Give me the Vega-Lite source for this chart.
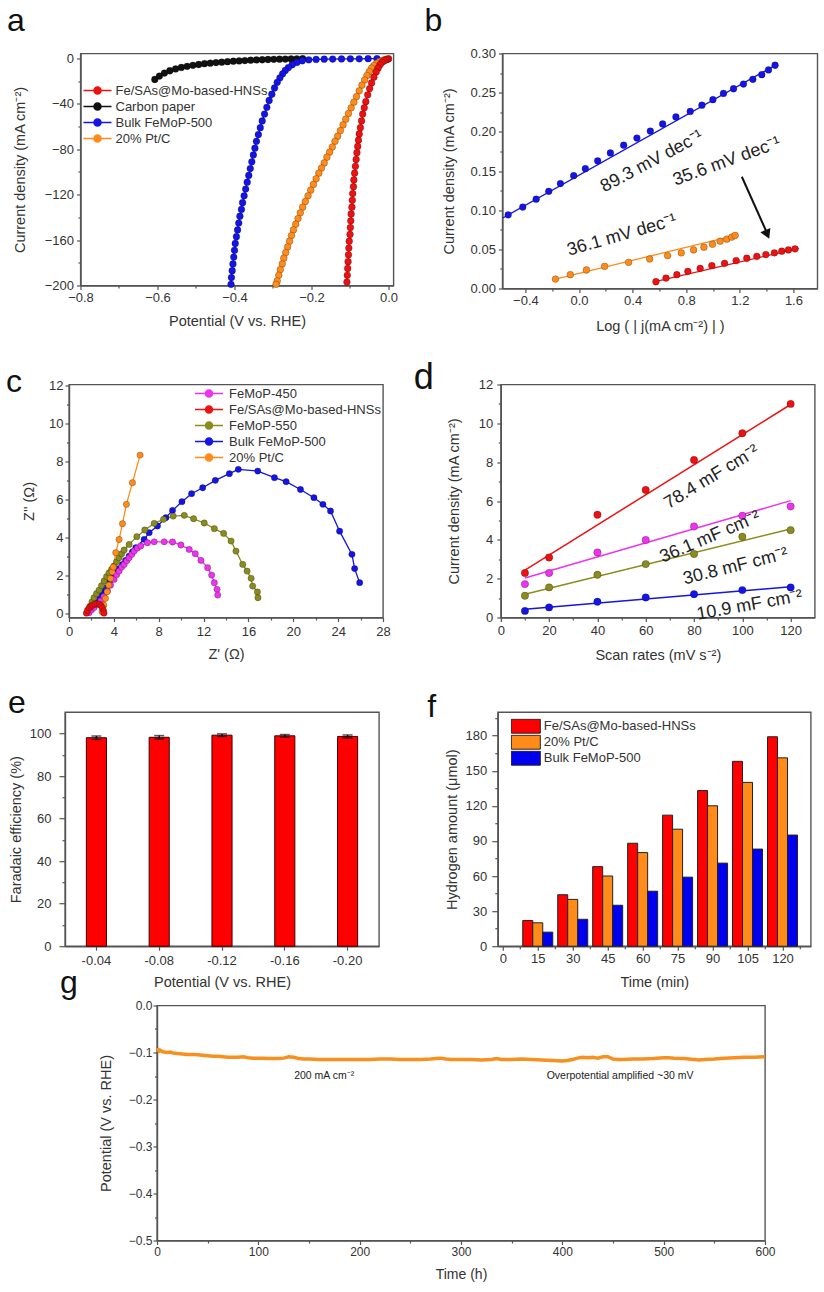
{
  "$schema": "https://vega.github.io/schema/vega-lite/v6.json",
  "padding": {"left": 0, "top": 3.5, "right": 2, "bottom": 2},
  "background": "white",
  "config": {
    "font": "Liberation Sans",
    "view": {"stroke": "#555", "strokeWidth": 1.4},
    "axis": {"grid": false, "labelFlush": false, "domainColor": "#555", "domainWidth": 1.4, "tickColor": "#555", "tickWidth": 1.2, "tickSize": 4, "labelColor": "#333", "labelFontSize": 13, "titleColor": "#333", "titleFontSize": 14.5, "titleFontWeight": "normal", "labelPadding": 2},
    "legend": {"labelColor": "#333", "labelFontSize": 13, "padding": 0, "rowPadding": 0},
    "title": {"fontSize": 32, "fontWeight": "normal", "anchor": "start", "frame": "group", "color": "#111", "baseline": "alphabetic"}
  },
  "datasets": {
    "lsv": [
      {"s":"Carbon paper","x":-0.607,"y":-18.5},{"s":"Carbon paper","x":-0.595,"y":-15.5},{"s":"Carbon paper","x":-0.582,"y":-12.8},{"s":"Carbon paper","x":-0.568,"y":-10.8},{"s":"Carbon paper","x":-0.553,"y":-9.2},{"s":"Carbon paper","x":-0.538,"y":-7.9},{"s":"Carbon paper","x":-0.523,"y":-6.9},{"s":"Carbon paper","x":-0.508,"y":-6.0},{"s":"Carbon paper","x":-0.493,"y":-5.3},{"s":"Carbon paper","x":-0.478,"y":-4.6},{"s":"Carbon paper","x":-0.463,"y":-4.1},{"s":"Carbon paper","x":-0.448,"y":-3.6},{"s":"Carbon paper","x":-0.433,"y":-3.2},{"s":"Carbon paper","x":-0.418,"y":-2.8},{"s":"Carbon paper","x":-0.403,"y":-2.4},{"s":"Carbon paper","x":-0.388,"y":-2.1},{"s":"Carbon paper","x":-0.373,"y":-1.8},{"s":"Carbon paper","x":-0.358,"y":-1.5},{"s":"Carbon paper","x":-0.343,"y":-1.3},{"s":"Carbon paper","x":-0.328,"y":-1.1},{"s":"Carbon paper","x":-0.313,"y":-0.9},{"s":"Carbon paper","x":-0.298,"y":-0.7},{"s":"Carbon paper","x":-0.283,"y":-0.6},{"s":"Carbon paper","x":-0.268,"y":-0.5},{"s":"Carbon paper","x":-0.253,"y":-0.4},{"s":"Carbon paper","x":-0.238,"y":-0.3},{"s":"Carbon paper","x":-0.223,"y":-0.2},
      {"s":"Bulk FeMoP-500","x":-0.030,"y":-0.2},{"s":"Bulk FeMoP-500","x":-0.053,"y":-0.2},{"s":"Bulk FeMoP-500","x":-0.076,"y":-0.3},{"s":"Bulk FeMoP-500","x":-0.099,"y":-0.3},{"s":"Bulk FeMoP-500","x":-0.122,"y":-0.4},{"s":"Bulk FeMoP-500","x":-0.145,"y":-0.5},{"s":"Bulk FeMoP-500","x":-0.167,"y":-0.6},{"s":"Bulk FeMoP-500","x":-0.188,"y":-0.8},{"s":"Bulk FeMoP-500","x":-0.207,"y":-1.2},{"s":"Bulk FeMoP-500","x":-0.224,"y":-2.0},{"s":"Bulk FeMoP-500","x":-0.238,"y":-3.5},{"s":"Bulk FeMoP-500","x":-0.250,"y":-5.5},{"s":"Bulk FeMoP-500","x":-0.260,"y":-8},{"s":"Bulk FeMoP-500","x":-0.268,"y":-10.5},{"s":"Bulk FeMoP-500","x":-0.275,"y":-13.5},{"s":"Bulk FeMoP-500","x":-0.282,"y":-17},{"s":"Bulk FeMoP-500","x":-0.289,"y":-21},{"s":"Bulk FeMoP-500","x":-0.296,"y":-26},{"s":"Bulk FeMoP-500","x":-0.303,"y":-31.5},{"s":"Bulk FeMoP-500","x":-0.310,"y":-37},{"s":"Bulk FeMoP-500","x":-0.316,"y":-43},{"s":"Bulk FeMoP-500","x":-0.322,"y":-49},{"s":"Bulk FeMoP-500","x":-0.328,"y":-55},{"s":"Bulk FeMoP-500","x":-0.333,"y":-61},{"s":"Bulk FeMoP-500","x":-0.338,"y":-67},{"s":"Bulk FeMoP-500","x":-0.343,"y":-73},{"s":"Bulk FeMoP-500","x":-0.347,"y":-79},{"s":"Bulk FeMoP-500","x":-0.351,"y":-85},{"s":"Bulk FeMoP-500","x":-0.355,"y":-91},{"s":"Bulk FeMoP-500","x":-0.359,"y":-97},{"s":"Bulk FeMoP-500","x":-0.363,"y":-103},{"s":"Bulk FeMoP-500","x":-0.367,"y":-109},{"s":"Bulk FeMoP-500","x":-0.371,"y":-115},{"s":"Bulk FeMoP-500","x":-0.375,"y":-121},{"s":"Bulk FeMoP-500","x":-0.379,"y":-127},{"s":"Bulk FeMoP-500","x":-0.382,"y":-133},{"s":"Bulk FeMoP-500","x":-0.386,"y":-139},{"s":"Bulk FeMoP-500","x":-0.389,"y":-145},{"s":"Bulk FeMoP-500","x":-0.392,"y":-151},{"s":"Bulk FeMoP-500","x":-0.395,"y":-157},{"s":"Bulk FeMoP-500","x":-0.398,"y":-163},{"s":"Bulk FeMoP-500","x":-0.400,"y":-169},{"s":"Bulk FeMoP-500","x":-0.402,"y":-175},{"s":"Bulk FeMoP-500","x":-0.404,"y":-181},{"s":"Bulk FeMoP-500","x":-0.406,"y":-187},{"s":"Bulk FeMoP-500","x":-0.408,"y":-193},{"s":"Bulk FeMoP-500","x":-0.409,"y":-199},
      {"s":"20% Pt/C","x":0.000,"y":-0.3},{"s":"20% Pt/C","x":-0.008,"y":-0.8},{"s":"20% Pt/C","x":-0.016,"y":-1.6},{"s":"20% Pt/C","x":-0.024,"y":-2.8},{"s":"20% Pt/C","x":-0.031,"y":-4.3},{"s":"20% Pt/C","x":-0.038,"y":-6.2},{"s":"20% Pt/C","x":-0.044,"y":-8.5},{"s":"20% Pt/C","x":-0.050,"y":-11.5},{"s":"20% Pt/C","x":-0.056,"y":-15},{"s":"20% Pt/C","x":-0.062,"y":-19},{"s":"20% Pt/C","x":-0.069,"y":-23.5},{"s":"20% Pt/C","x":-0.076,"y":-28.5},{"s":"20% Pt/C","x":-0.083,"y":-33.5},{"s":"20% Pt/C","x":-0.090,"y":-38.5},{"s":"20% Pt/C","x":-0.097,"y":-43.5},{"s":"20% Pt/C","x":-0.104,"y":-48.5},{"s":"20% Pt/C","x":-0.111,"y":-53.5},{"s":"20% Pt/C","x":-0.118,"y":-58.5},{"s":"20% Pt/C","x":-0.125,"y":-63.5},{"s":"20% Pt/C","x":-0.132,"y":-68.5},{"s":"20% Pt/C","x":-0.139,"y":-73},{"s":"20% Pt/C","x":-0.146,"y":-78},{"s":"20% Pt/C","x":-0.153,"y":-82.5},{"s":"20% Pt/C","x":-0.160,"y":-87},{"s":"20% Pt/C","x":-0.167,"y":-92},{"s":"20% Pt/C","x":-0.174,"y":-96.5},{"s":"20% Pt/C","x":-0.181,"y":-101},{"s":"20% Pt/C","x":-0.188,"y":-106},{"s":"20% Pt/C","x":-0.195,"y":-111},{"s":"20% Pt/C","x":-0.202,"y":-116},{"s":"20% Pt/C","x":-0.209,"y":-121},{"s":"20% Pt/C","x":-0.216,"y":-126},{"s":"20% Pt/C","x":-0.223,"y":-131},{"s":"20% Pt/C","x":-0.229,"y":-136},{"s":"20% Pt/C","x":-0.235,"y":-141},{"s":"20% Pt/C","x":-0.241,"y":-146},{"s":"20% Pt/C","x":-0.247,"y":-151},{"s":"20% Pt/C","x":-0.252,"y":-156},{"s":"20% Pt/C","x":-0.257,"y":-161},{"s":"20% Pt/C","x":-0.262,"y":-166},{"s":"20% Pt/C","x":-0.267,"y":-171},{"s":"20% Pt/C","x":-0.272,"y":-176},{"s":"20% Pt/C","x":-0.276,"y":-181},{"s":"20% Pt/C","x":-0.281,"y":-186},{"s":"20% Pt/C","x":-0.285,"y":-191},{"s":"20% Pt/C","x":-0.289,"y":-196},{"s":"20% Pt/C","x":-0.292,"y":-199},
      {"s":"Fe/SAs@Mo-based-HNSs","x":0.000,"y":-0.3},{"s":"Fe/SAs@Mo-based-HNSs","x":-0.004,"y":-0.8},{"s":"Fe/SAs@Mo-based-HNSs","x":-0.008,"y":-1.3},{"s":"Fe/SAs@Mo-based-HNSs","x":-0.012,"y":-2.2},{"s":"Fe/SAs@Mo-based-HNSs","x":-0.017,"y":-3.4},{"s":"Fe/SAs@Mo-based-HNSs","x":-0.022,"y":-5.5},{"s":"Fe/SAs@Mo-based-HNSs","x":-0.027,"y":-8.5},{"s":"Fe/SAs@Mo-based-HNSs","x":-0.032,"y":-12},{"s":"Fe/SAs@Mo-based-HNSs","x":-0.038,"y":-16.5},{"s":"Fe/SAs@Mo-based-HNSs","x":-0.044,"y":-21.5},{"s":"Fe/SAs@Mo-based-HNSs","x":-0.049,"y":-26.5},{"s":"Fe/SAs@Mo-based-HNSs","x":-0.054,"y":-32},{"s":"Fe/SAs@Mo-based-HNSs","x":-0.059,"y":-38},{"s":"Fe/SAs@Mo-based-HNSs","x":-0.063,"y":-43.5},{"s":"Fe/SAs@Mo-based-HNSs","x":-0.067,"y":-49},{"s":"Fe/SAs@Mo-based-HNSs","x":-0.070,"y":-55},{"s":"Fe/SAs@Mo-based-HNSs","x":-0.073,"y":-61},{"s":"Fe/SAs@Mo-based-HNSs","x":-0.076,"y":-66.5},{"s":"Fe/SAs@Mo-based-HNSs","x":-0.078,"y":-72},{"s":"Fe/SAs@Mo-based-HNSs","x":-0.080,"y":-77.5},{"s":"Fe/SAs@Mo-based-HNSs","x":-0.082,"y":-83},{"s":"Fe/SAs@Mo-based-HNSs","x":-0.084,"y":-89},{"s":"Fe/SAs@Mo-based-HNSs","x":-0.086,"y":-95},{"s":"Fe/SAs@Mo-based-HNSs","x":-0.088,"y":-101},{"s":"Fe/SAs@Mo-based-HNSs","x":-0.090,"y":-107},{"s":"Fe/SAs@Mo-based-HNSs","x":-0.091,"y":-113},{"s":"Fe/SAs@Mo-based-HNSs","x":-0.093,"y":-119},{"s":"Fe/SAs@Mo-based-HNSs","x":-0.094,"y":-125},{"s":"Fe/SAs@Mo-based-HNSs","x":-0.095,"y":-131},{"s":"Fe/SAs@Mo-based-HNSs","x":-0.097,"y":-137},{"s":"Fe/SAs@Mo-based-HNSs","x":-0.098,"y":-143},{"s":"Fe/SAs@Mo-based-HNSs","x":-0.099,"y":-149},{"s":"Fe/SAs@Mo-based-HNSs","x":-0.100,"y":-155},{"s":"Fe/SAs@Mo-based-HNSs","x":-0.102,"y":-161},{"s":"Fe/SAs@Mo-based-HNSs","x":-0.103,"y":-167},{"s":"Fe/SAs@Mo-based-HNSs","x":-0.104,"y":-173},{"s":"Fe/SAs@Mo-based-HNSs","x":-0.105,"y":-179},{"s":"Fe/SAs@Mo-based-HNSs","x":-0.106,"y":-185},{"s":"Fe/SAs@Mo-based-HNSs","x":-0.107,"y":-191},{"s":"Fe/SAs@Mo-based-HNSs","x":-0.108,"y":-197}
    ],
    "tafel": [
      {"s":"Bulk FeMoP-500","x":-0.529,"y":0.094},{"s":"Bulk FeMoP-500","x":-0.420,"y":0.104},{"s":"Bulk FeMoP-500","x":-0.320,"y":0.114},{"s":"Bulk FeMoP-500","x":-0.226,"y":0.124},{"s":"Bulk FeMoP-500","x":-0.139,"y":0.134},{"s":"Bulk FeMoP-500","x":-0.040,"y":0.144},{"s":"Bulk FeMoP-500","x":0.047,"y":0.153},{"s":"Bulk FeMoP-500","x":0.139,"y":0.163},{"s":"Bulk FeMoP-500","x":0.234,"y":0.173},{"s":"Bulk FeMoP-500","x":0.333,"y":0.183},{"s":"Bulk FeMoP-500","x":0.432,"y":0.192},{"s":"Bulk FeMoP-500","x":0.532,"y":0.201},{"s":"Bulk FeMoP-500","x":0.624,"y":0.210},{"s":"Bulk FeMoP-500","x":0.723,"y":0.219},{"s":"Bulk FeMoP-500","x":0.830,"y":0.226},{"s":"Bulk FeMoP-500","x":0.917,"y":0.234},{"s":"Bulk FeMoP-500","x":0.999,"y":0.241},{"s":"Bulk FeMoP-500","x":1.078,"y":0.249},{"s":"Bulk FeMoP-500","x":1.153,"y":0.255},{"s":"Bulk FeMoP-500","x":1.227,"y":0.261},{"s":"Bulk FeMoP-500","x":1.297,"y":0.267},{"s":"Bulk FeMoP-500","x":1.364,"y":0.273},{"s":"Bulk FeMoP-500","x":1.414,"y":0.279},{"s":"Bulk FeMoP-500","x":1.463,"y":0.285},
      {"s":"20% Pt/C","x":-0.176,"y":0.012},{"s":"20% Pt/C","x":-0.065,"y":0.0176},{"s":"20% Pt/C","x":0.055,"y":0.0236},{"s":"20% Pt/C","x":0.191,"y":0.0283},{"s":"20% Pt/C","x":0.370,"y":0.0334},{"s":"20% Pt/C","x":0.527,"y":0.0377},{"s":"20% Pt/C","x":0.661,"y":0.042},{"s":"20% Pt/C","x":0.763,"y":0.0454},{"s":"20% Pt/C","x":0.855,"y":0.0493},{"s":"20% Pt/C","x":0.932,"y":0.0527},{"s":"20% Pt/C","x":0.996,"y":0.0566},{"s":"20% Pt/C","x":1.053,"y":0.0604},{"s":"20% Pt/C","x":1.103,"y":0.063},{"s":"20% Pt/C","x":1.140,"y":0.0656},{"s":"20% Pt/C","x":1.165,"y":0.0677},
      {"s":"Fe/SAs@Mo-based-HNSs","x":0.574,"y":0.0086},{"s":"Fe/SAs@Mo-based-HNSs","x":0.649,"y":0.0133},{"s":"Fe/SAs@Mo-based-HNSs","x":0.730,"y":0.0176},{"s":"Fe/SAs@Mo-based-HNSs","x":0.812,"y":0.0219},{"s":"Fe/SAs@Mo-based-HNSs","x":0.904,"y":0.0257},{"s":"Fe/SAs@Mo-based-HNSs","x":0.991,"y":0.0291},{"s":"Fe/SAs@Mo-based-HNSs","x":1.086,"y":0.0321},{"s":"Fe/SAs@Mo-based-HNSs","x":1.173,"y":0.0356},{"s":"Fe/SAs@Mo-based-HNSs","x":1.252,"y":0.0386},{"s":"Fe/SAs@Mo-based-HNSs","x":1.327,"y":0.0411},{"s":"Fe/SAs@Mo-based-HNSs","x":1.394,"y":0.0433},{"s":"Fe/SAs@Mo-based-HNSs","x":1.458,"y":0.0454},{"s":"Fe/SAs@Mo-based-HNSs","x":1.513,"y":0.0476},{"s":"Fe/SAs@Mo-based-HNSs","x":1.563,"y":0.0493},{"s":"Fe/SAs@Mo-based-HNSs","x":1.612,"y":0.0506}
    ],
    "tafelfit": [
      {"s":"Bulk FeMoP-500","x":-0.57,"y":0.090},{"s":"Bulk FeMoP-500","x":1.48,"y":0.2865},
      {"s":"20% Pt/C","x":-0.2,"y":0.0111},{"s":"20% Pt/C","x":1.19,"y":0.0688},
      {"s":"Fe/SAs@Mo-based-HNSs","x":0.56,"y":0.0085},{"s":"Fe/SAs@Mo-based-HNSs","x":1.64,"y":0.0512}
    ],
    "eis": [
      {"s":"Bulk FeMoP-500","x":1.94,"y":0.23},{"s":"Bulk FeMoP-500","x":2.15,"y":0.45},{"s":"Bulk FeMoP-500","x":2.38,"y":0.67},{"s":"Bulk FeMoP-500","x":2.65,"y":0.88},{"s":"Bulk FeMoP-500","x":2.98,"y":1.1},{"s":"Bulk FeMoP-500","x":3.25,"y":1.35},{"s":"Bulk FeMoP-500","x":3.57,"y":1.63},{"s":"Bulk FeMoP-500","x":3.85,"y":1.9},{"s":"Bulk FeMoP-500","x":4.17,"y":2.15},{"s":"Bulk FeMoP-500","x":4.45,"y":2.37},{"s":"Bulk FeMoP-500","x":4.77,"y":2.59},{"s":"Bulk FeMoP-500","x":5.05,"y":2.8},{"s":"Bulk FeMoP-500","x":5.36,"y":3.03},{"s":"Bulk FeMoP-500","x":5.65,"y":3.25},{"s":"Bulk FeMoP-500","x":5.96,"y":3.47},{"s":"Bulk FeMoP-500","x":6.7,"y":3.91},{"s":"Bulk FeMoP-500","x":7.15,"y":4.26},{"s":"Bulk FeMoP-500","x":7.89,"y":4.61},{"s":"Bulk FeMoP-500","x":8.64,"y":5.05},{"s":"Bulk FeMoP-500","x":9.23,"y":5.43},{"s":"Bulk FeMoP-500","x":10.07,"y":5.89},{"s":"Bulk FeMoP-500","x":10.93,"y":6.31},{"s":"Bulk FeMoP-500","x":11.92,"y":6.62},{"s":"Bulk FeMoP-500","x":13.05,"y":7.01},{"s":"Bulk FeMoP-500","x":14.3,"y":7.36},{"s":"Bulk FeMoP-500","x":15.1,"y":7.59},{"s":"Bulk FeMoP-500","x":16.83,"y":7.5},{"s":"Bulk FeMoP-500","x":18.32,"y":7.15},{"s":"Bulk FeMoP-500","x":19.36,"y":6.94},{"s":"Bulk FeMoP-500","x":20.64,"y":6.53},{"s":"Bulk FeMoP-500","x":21.84,"y":6.1},{"s":"Bulk FeMoP-500","x":22.64,"y":5.75},{"s":"Bulk FeMoP-500","x":23.32,"y":5.4},{"s":"Bulk FeMoP-500","x":24.13,"y":4.34},{"s":"Bulk FeMoP-500","x":25.23,"y":3.12},{"s":"Bulk FeMoP-500","x":25.47,"y":2.37},{"s":"Bulk FeMoP-500","x":25.92,"y":1.63},
      {"s":"FeMoP-550","x":1.7,"y":0.1},{"s":"FeMoP-550","x":1.88,"y":0.4},{"s":"FeMoP-550","x":2.05,"y":0.62},{"s":"FeMoP-550","x":2.23,"y":0.84},{"s":"FeMoP-550","x":2.45,"y":1.05},{"s":"FeMoP-550","x":2.68,"y":1.24},{"s":"FeMoP-550","x":2.9,"y":1.48},{"s":"FeMoP-550","x":3.13,"y":1.72},{"s":"FeMoP-550","x":3.35,"y":1.95},{"s":"FeMoP-550","x":3.57,"y":2.15},{"s":"FeMoP-550","x":3.8,"y":2.33},{"s":"FeMoP-550","x":4.02,"y":2.51},{"s":"FeMoP-550","x":4.25,"y":2.73},{"s":"FeMoP-550","x":4.47,"y":2.94},{"s":"FeMoP-550","x":4.7,"y":3.15},{"s":"FeMoP-550","x":4.92,"y":3.35},{"s":"FeMoP-550","x":5.36,"y":3.64},{"s":"FeMoP-550","x":6.05,"y":4.05},{"s":"FeMoP-550","x":6.76,"y":4.4},{"s":"FeMoP-550","x":7.6,"y":4.75},{"s":"FeMoP-550","x":8.43,"y":4.96},{"s":"FeMoP-550","x":9.29,"y":5.13},{"s":"FeMoP-550","x":10.28,"y":5.17},{"s":"FeMoP-550","x":11.11,"y":4.99},{"s":"FeMoP-550","x":12.06,"y":4.77},{"s":"FeMoP-550","x":12.96,"y":4.47},{"s":"FeMoP-550","x":13.79,"y":4.22},{"s":"FeMoP-550","x":14.45,"y":3.82},{"s":"FeMoP-550","x":14.89,"y":3.29},{"s":"FeMoP-550","x":15.49,"y":2.59},{"s":"FeMoP-550","x":15.88,"y":2.24},{"s":"FeMoP-550","x":16.24,"y":1.86},{"s":"FeMoP-550","x":16.38,"y":1.45},{"s":"FeMoP-550","x":16.8,"y":1.14},{"s":"FeMoP-550","x":16.85,"y":0.84},
      {"s":"FeMoP-450","x":1.79,"y":0.05},{"s":"FeMoP-450","x":2.0,"y":0.2},{"s":"FeMoP-450","x":2.23,"y":0.32},{"s":"FeMoP-450","x":2.5,"y":0.5},{"s":"FeMoP-450","x":2.83,"y":0.67},{"s":"FeMoP-450","x":3.1,"y":0.9},{"s":"FeMoP-450","x":3.43,"y":1.19},{"s":"FeMoP-450","x":3.7,"y":1.5},{"s":"FeMoP-450","x":4.02,"y":1.8},{"s":"FeMoP-450","x":4.25,"y":2.05},{"s":"FeMoP-450","x":4.47,"y":2.24},{"s":"FeMoP-450","x":4.7,"y":2.45},{"s":"FeMoP-450","x":4.92,"y":2.59},{"s":"FeMoP-450","x":5.15,"y":2.78},{"s":"FeMoP-450","x":5.36,"y":2.94},{"s":"FeMoP-450","x":5.6,"y":3.12},{"s":"FeMoP-450","x":5.81,"y":3.29},{"s":"FeMoP-450","x":6.1,"y":3.45},{"s":"FeMoP-450","x":6.4,"y":3.56},{"s":"FeMoP-450","x":7.0,"y":3.73},{"s":"FeMoP-450","x":7.6,"y":3.78},{"s":"FeMoP-450","x":8.49,"y":3.78},{"s":"FeMoP-450","x":9.23,"y":3.77},{"s":"FeMoP-450","x":9.98,"y":3.61},{"s":"FeMoP-450","x":10.72,"y":3.38},{"s":"FeMoP-450","x":11.26,"y":3.15},{"s":"FeMoP-450","x":11.77,"y":2.8},{"s":"FeMoP-450","x":12.36,"y":2.42},{"s":"FeMoP-450","x":12.72,"y":2.03},{"s":"FeMoP-450","x":12.96,"y":1.63},{"s":"FeMoP-450","x":13.2,"y":1.28},{"s":"FeMoP-450","x":13.26,"y":0.98},
      {"s":"20% Pt/C","x":2.95,"y":0.1},{"s":"20% Pt/C","x":3.1,"y":0.45},{"s":"20% Pt/C","x":3.25,"y":0.8},{"s":"20% Pt/C","x":3.4,"y":1.15},{"s":"20% Pt/C","x":3.55,"y":1.5},{"s":"20% Pt/C","x":3.7,"y":1.85},{"s":"20% Pt/C","x":3.85,"y":2.2},{"s":"20% Pt/C","x":3.95,"y":2.45},{"s":"20% Pt/C","x":4.17,"y":3.21},{"s":"20% Pt/C","x":4.47,"y":3.9},{"s":"20% Pt/C","x":4.77,"y":4.73},{"s":"20% Pt/C","x":5.12,"y":5.75},{"s":"20% Pt/C","x":5.66,"y":6.89},{"s":"20% Pt/C","x":6.34,"y":8.34},
      {"s":"Fe/SAs@Mo-based-HNSs","x":1.55,"y":0.03},{"s":"Fe/SAs@Mo-based-HNSs","x":1.65,"y":0.18},{"s":"Fe/SAs@Mo-based-HNSs","x":1.8,"y":0.3},{"s":"Fe/SAs@Mo-based-HNSs","x":1.95,"y":0.38},{"s":"Fe/SAs@Mo-based-HNSs","x":2.1,"y":0.45},{"s":"Fe/SAs@Mo-based-HNSs","x":2.3,"y":0.5},{"s":"Fe/SAs@Mo-based-HNSs","x":2.5,"y":0.52},{"s":"Fe/SAs@Mo-based-HNSs","x":2.7,"y":0.5},{"s":"Fe/SAs@Mo-based-HNSs","x":2.85,"y":0.42},{"s":"Fe/SAs@Mo-based-HNSs","x":2.98,"y":0.3},{"s":"Fe/SAs@Mo-based-HNSs","x":3.08,"y":0.15},{"s":"Fe/SAs@Mo-based-HNSs","x":3.12,"y":0.03}
    ],
    "cdl": [
      {"s":"Fe/SAs@Mo-based-HNSs","x":10,"y":2.29},{"s":"Fe/SAs@Mo-based-HNSs","x":20,"y":3.09},{"s":"Fe/SAs@Mo-based-HNSs","x":40,"y":5.29},{"s":"Fe/SAs@Mo-based-HNSs","x":60,"y":6.57},{"s":"Fe/SAs@Mo-based-HNSs","x":80,"y":8.11},{"s":"Fe/SAs@Mo-based-HNSs","x":100,"y":9.49},{"s":"Fe/SAs@Mo-based-HNSs","x":120,"y":11.0},
      {"s":"FeMoP-450","x":10,"y":1.72},{"s":"FeMoP-450","x":20,"y":2.29},{"s":"FeMoP-450","x":40,"y":3.35},{"s":"FeMoP-450","x":60,"y":3.99},{"s":"FeMoP-450","x":80,"y":4.69},{"s":"FeMoP-450","x":100,"y":5.24},{"s":"FeMoP-450","x":120,"y":5.72},
      {"s":"FeMoP-550","x":10,"y":1.12},{"s":"FeMoP-550","x":20,"y":1.55},{"s":"FeMoP-550","x":40,"y":2.2},{"s":"FeMoP-550","x":60,"y":2.75},{"s":"FeMoP-550","x":80,"y":3.27},{"s":"FeMoP-550","x":100,"y":4.16},{"s":"FeMoP-550","x":120,"y":4.5},
      {"s":"Bulk FeMoP-500","x":10,"y":0.34},{"s":"Bulk FeMoP-500","x":20,"y":0.52},{"s":"Bulk FeMoP-500","x":40,"y":0.81},{"s":"Bulk FeMoP-500","x":60,"y":1.03},{"s":"Bulk FeMoP-500","x":80,"y":1.2},{"s":"Bulk FeMoP-500","x":100,"y":1.41},{"s":"Bulk FeMoP-500","x":120,"y":1.55}
    ],
    "cdlfit": [
      {"s":"Fe/SAs@Mo-based-HNSs","x":10,"y":2.44},{"s":"Fe/SAs@Mo-based-HNSs","x":120,"y":10.97},
      {"s":"FeMoP-450","x":10,"y":2.03},{"s":"FeMoP-450","x":120,"y":6.02},
      {"s":"FeMoP-550","x":10,"y":1.2},{"s":"FeMoP-550","x":120,"y":4.56},
      {"s":"Bulk FeMoP-500","x":10,"y":0.43},{"s":"Bulk FeMoP-500","x":120,"y":1.58}
    ],
    "fe": [
      {"p":"-0.04","fe":98.0,"err":0.8},{"p":"-0.08","fe":98.2,"err":0.8},{"p":"-0.12","fe":99.2,"err":0.6},{"p":"-0.16","fe":98.9,"err":0.6},{"p":"-0.20","fe":98.6,"err":0.7}
    ],
    "h2": [
      {"t":15,"s":"Fe/SAs@Mo-based-HNSs","h":22},{"t":15,"s":"20% Pt/C","h":20},{"t":15,"s":"Bulk FeMoP-500","h":12},
      {"t":30,"s":"Fe/SAs@Mo-based-HNSs","h":44},{"t":30,"s":"20% Pt/C","h":40},{"t":30,"s":"Bulk FeMoP-500","h":23},
      {"t":45,"s":"Fe/SAs@Mo-based-HNSs","h":68},{"t":45,"s":"20% Pt/C","h":60},{"t":45,"s":"Bulk FeMoP-500","h":35},
      {"t":60,"s":"Fe/SAs@Mo-based-HNSs","h":88},{"t":60,"s":"20% Pt/C","h":80},{"t":60,"s":"Bulk FeMoP-500","h":47},
      {"t":75,"s":"Fe/SAs@Mo-based-HNSs","h":112},{"t":75,"s":"20% Pt/C","h":100},{"t":75,"s":"Bulk FeMoP-500","h":59},
      {"t":90,"s":"Fe/SAs@Mo-based-HNSs","h":133},{"t":90,"s":"20% Pt/C","h":120},{"t":90,"s":"Bulk FeMoP-500","h":71},
      {"t":105,"s":"Fe/SAs@Mo-based-HNSs","h":158},{"t":105,"s":"20% Pt/C","h":140},{"t":105,"s":"Bulk FeMoP-500","h":83},
      {"t":120,"s":"Fe/SAs@Mo-based-HNSs","h":179},{"t":120,"s":"20% Pt/C","h":161},{"t":120,"s":"Bulk FeMoP-500","h":95}
    ],
    "stab": [
      {"t":0,"v":-0.091},{"t":1,"v":-0.094},{"t":2,"v":-0.097},{"t":3,"v":-0.095},{"t":5,"v":-0.098},{"t":7,"v":-0.099},{"t":10,"v":-0.100},{"t":13,"v":-0.099},{"t":16,"v":-0.101},{"t":20,"v":-0.102},{"t":25,"v":-0.103},{"t":30,"v":-0.104},{"t":35,"v":-0.104},{"t":40,"v":-0.105},{"t":45,"v":-0.106},{"t":50,"v":-0.107},{"t":55,"v":-0.108},{"t":60,"v":-0.108},{"t":65,"v":-0.109},{"t":70,"v":-0.110},{"t":75,"v":-0.110},{"t":80,"v":-0.110},{"t":85,"v":-0.109},{"t":90,"v":-0.111},{"t":95,"v":-0.112},{"t":100,"v":-0.112},{"t":105,"v":-0.112},{"t":110,"v":-0.113},{"t":115,"v":-0.113},{"t":120,"v":-0.113},{"t":125,"v":-0.112},{"t":130,"v":-0.109},{"t":135,"v":-0.110},{"t":140,"v":-0.113},{"t":145,"v":-0.114},{"t":150,"v":-0.114},{"t":160,"v":-0.115},{"t":170,"v":-0.115},{"t":180,"v":-0.115},{"t":190,"v":-0.115},{"t":200,"v":-0.115},{"t":210,"v":-0.115},{"t":220,"v":-0.114},{"t":230,"v":-0.114},{"t":240,"v":-0.115},{"t":250,"v":-0.115},{"t":260,"v":-0.115},{"t":270,"v":-0.114},{"t":275,"v":-0.113},{"t":280,"v":-0.112},{"t":285,"v":-0.114},{"t":290,"v":-0.115},{"t":300,"v":-0.115},{"t":310,"v":-0.115},{"t":320,"v":-0.116},{"t":330,"v":-0.115},{"t":335,"v":-0.113},{"t":340,"v":-0.115},{"t":350,"v":-0.115},{"t":360,"v":-0.114},{"t":370,"v":-0.115},{"t":380,"v":-0.116},{"t":390,"v":-0.117},{"t":400,"v":-0.118},{"t":405,"v":-0.117},{"t":410,"v":-0.115},{"t":415,"v":-0.112},{"t":420,"v":-0.110},{"t":425,"v":-0.111},{"t":430,"v":-0.110},{"t":435,"v":-0.112},{"t":440,"v":-0.109},{"t":445,"v":-0.109},{"t":450,"v":-0.114},{"t":455,"v":-0.115},{"t":460,"v":-0.115},{"t":470,"v":-0.114},{"t":480,"v":-0.114},{"t":490,"v":-0.113},{"t":500,"v":-0.111},{"t":505,"v":-0.111},{"t":510,"v":-0.112},{"t":520,"v":-0.113},{"t":530,"v":-0.115},{"t":535,"v":-0.116},{"t":540,"v":-0.115},{"t":550,"v":-0.114},{"t":560,"v":-0.112},{"t":570,"v":-0.111},{"t":580,"v":-0.110},{"t":590,"v":-0.110},{"t":600,"v":-0.109}
    ],
    "none": []
  },
  "resolve": {"scale": {"fill": "independent", "stroke": "independent", "color": "independent"}, "legend": {"fill": "independent", "stroke": "independent", "color": "independent"}},
  "spacing": 24.0,
  "vconcat": [
    {
      "spacing": 4.5,
      "resolve": {"scale": {"fill": "independent", "stroke": "independent", "color": "independent"}, "legend": {"fill": "independent", "stroke": "independent", "color": "independent"}},
      "hconcat": [
        {"width": 1, "height": 1, "data": {"name": "none"}, "mark": "point", "view": {"stroke": null}},
        {
          "spacing": 24.9,
          "resolve": {"scale": {"fill": "independent", "stroke": "independent", "color": "independent"}, "legend": {"fill": "independent", "stroke": "independent", "color": "independent"}},
          "hconcat": [
            {
              "title": {"text": "a", "dx": -73.5, "offset": 14.8},
              "width": 313, "height": 232,
              "data": {"name": "lsv"},
              "resolve": {"axis": {"x": "independent", "y": "independent"}},
              "layer": [
                {
                  "mark": {"type": "line", "strokeWidth": 1.3},
                  "encoding": {
                    "x": {"field": "x", "type": "quantitative", "scale": {"domain": [-0.8, 0.013], "nice": false, "zero": false}, "axis": {"title": "Potential (V vs. RHE)", "values": [-0.8, -0.6, -0.4, -0.2, 0], "format": ".1f", "titlePadding": 10}},
                    "y": {"field": "y", "type": "quantitative", "scale": {"domain": [-200, 4.4], "nice": false, "zero": false}, "axis": {"title": "Current density (mA cm⁻²)", "values": [0, -40, -80, -120, -160, -200], "titlePadding": 17, "labelPadding": 3}},
                    "stroke": {"field": "s", "type": "nominal", "scale": {"domain": ["Fe/SAs@Mo-based-HNSs", "Carbon paper", "Bulk FeMoP-500", "20% Pt/C"], "range": ["#ee1111", "#111111", "#1414e6", "#ff8c1a"]},
                      "legend": {"title": null, "orient": "none", "legendX": 2, "legendY": 29, "symbolType": "M-1,0H1M0.25,0A0.25,0.25,0,1,1,-0.25,0A0.25,0.25,0,1,1,0.25,0", "symbolSize": 784, "symbolStrokeWidth": 1.5, "clipHeight": 16, "labelOffset": 3, "labelFontSize": 13}}
                  }
                },
                {
                  "mark": {"type": "point", "filled": true, "size": 46, "stroke": "rgba(0,0,0,0.35)", "strokeWidth": 0.7, "opacity": 1},
                  "encoding": {
                    "x": {"field": "x", "type": "quantitative", "axis": null},
                    "y": {"field": "y", "type": "quantitative", "axis": null},
                    "fill": {"field": "s", "type": "nominal", "scale": {"domain": ["Fe/SAs@Mo-based-HNSs", "Carbon paper", "Bulk FeMoP-500", "20% Pt/C"], "range": ["#ee1111", "#111111", "#1414e6", "#ff8c1a"]},
                      "legend": {"title": null, "orient": "none", "legendX": 2, "legendY": 29, "symbolType": "M-1,0H1M0.25,0A0.25,0.25,0,1,1,-0.25,0A0.25,0.25,0,1,1,0.25,0", "symbolSize": 784, "symbolStrokeWidth": 1.5, "clipHeight": 16, "labelOffset": 3, "labelFontSize": 13}}
                  }
                },
                {
                  "mark": {"type": "point", "opacity": 0},
                  "encoding": {
                    "x": {"field": "x", "type": "quantitative", "axis": {"orient": "bottom", "values": [-0.7, -0.5, -0.3, -0.1], "labels": false, "domain": false, "title": null, "tickSize": 2.5}},
                    "y": {"field": "y", "type": "quantitative", "axis": {"orient": "left", "values": [-20, -60, -100, -140, -180], "labels": false, "domain": false, "title": null, "tickSize": 2.5}}
                  }
                }
              ]
            },
            {
              "title": {"text": "b", "dx": -78, "offset": 9.3},
              "width": 315, "height": 235,
              "resolve": {"axis": {"x": "independent", "y": "independent"}},
              "layer": [
                {
                  "data": {"name": "tafelfit"},
                  "mark": {"type": "line", "strokeWidth": 1.3},
                  "encoding": {
                    "x": {"field": "x", "type": "quantitative", "scale": {"domain": [-0.572, 1.779], "nice": false, "zero": false}, "axis": {"title": "Log ( | j(mA cm⁻²) | )", "values": [-0.4, 0, 0.4, 0.8, 1.2, 1.6], "format": ".1f", "titlePadding": 12}},
                    "y": {"field": "y", "type": "quantitative", "scale": {"domain": [0, 0.3], "nice": false}, "axis": {"title": "Current density (mA cm⁻²)", "values": [0, 0.05, 0.1, 0.15, 0.2, 0.25, 0.3], "format": ".2f", "titlePadding": 14, "labelPadding": 3}},
                    "stroke": {"field": "s", "type": "nominal", "scale": {"domain": ["Fe/SAs@Mo-based-HNSs", "Bulk FeMoP-500", "20% Pt/C"], "range": ["#ee1111", "#1414e6", "#ff8c1a"]}, "legend": null}
                  }
                },
                {
                  "data": {"name": "tafel"},
                  "mark": {"type": "point", "filled": true, "size": 46, "stroke": "rgba(0,0,0,0.35)", "strokeWidth": 0.7, "opacity": 1},
                  "encoding": {
                    "x": {"field": "x", "type": "quantitative", "axis": null},
                    "y": {"field": "y", "type": "quantitative", "axis": null},
                    "fill": {"field": "s", "type": "nominal", "scale": {"domain": ["Fe/SAs@Mo-based-HNSs", "Bulk FeMoP-500", "20% Pt/C"], "range": ["#ee1111", "#1414e6", "#ff8c1a"]},
                      "legend": {"title": null, "orient": "none", "legendX": 19, "legendY": 9, "symbolType": "circle", "symbolSize": 49, "clipHeight": 16, "labelOffset": 15, "labelFontSize": 13}}
                  }
                },
                {
                  "data": {"name": "tafel"},
                  "mark": {"type": "point", "opacity": 0},
                  "encoding": {
                    "x": {"field": "x", "type": "quantitative", "axis": {"orient": "bottom", "values": [-0.2, 0.2, 0.6, 1.0, 1.4], "labels": false, "domain": false, "title": null, "tickSize": 2.5}},
                    "y": {"field": "y", "type": "quantitative", "axis": {"orient": "left", "values": [0.025, 0.075, 0.125, 0.175, 0.225, 0.275], "labels": false, "domain": false, "title": null, "tickSize": 2.5}}
                  }
                },
                {
                  "data": {"values": [{"x": 1.215, "y": 0.1427}, {"x": 1.40, "y": 0.072}]},
                  "mark": {"type": "line", "color": "#111", "strokeWidth": 2},
                  "encoding": {"x": {"field": "x", "type": "quantitative", "axis": null}, "y": {"field": "y", "type": "quantitative", "axis": null}}
                },
                {
                  "data": {"values": [{"x": 1.405, "y": 0.069}]},
                  "mark": {"type": "point", "shape": "triangle-down", "filled": true, "color": "#111", "size": 120, "angle": -24, "opacity": 1},
                  "encoding": {"x": {"field": "x", "type": "quantitative", "axis": null}, "y": {"field": "y", "type": "quantitative", "axis": null}}
                },
                {
                  "data": {"values": [{"x": 0.544, "y": 0.162, "t": "89.3 mV dec⁻¹"}]},
                  "mark": {"type": "text", "angle": -28, "fontSize": 18, "color": "#222", "align": "center", "baseline": "middle"},
                  "encoding": {"x": {"field": "x", "type": "quantitative", "axis": null}, "y": {"field": "y", "type": "quantitative", "axis": null}, "text": {"field": "t"}}
                },
                {
                  "data": {"values": [{"x": 1.103, "y": 0.162, "t": "35.6 mV dec⁻¹"}]},
                  "mark": {"type": "text", "angle": -20, "fontSize": 18, "color": "#222", "align": "center", "baseline": "middle"},
                  "encoding": {"x": {"field": "x", "type": "quantitative", "axis": null}, "y": {"field": "y", "type": "quantitative", "axis": null}, "text": {"field": "t"}}
                },
                {
                  "data": {"values": [{"x": 0.32, "y": 0.0677, "t": "36.1 mV dec⁻¹"}]},
                  "mark": {"type": "text", "angle": -16, "fontSize": 18, "color": "#222", "align": "center", "baseline": "middle"},
                  "encoding": {"x": {"field": "x", "type": "quantitative", "axis": null}, "y": {"field": "y", "type": "quantitative", "axis": null}, "text": {"field": "t"}}
                }
              ]
            }
          ]
        }
      ]
    },
    {
      "spacing": 22.7,
      "resolve": {"scale": {"fill": "independent", "stroke": "independent", "color": "independent"}, "legend": {"fill": "independent", "stroke": "independent", "color": "independent"}},
      "vconcat": [
        {
          "spacing": 4,
          "resolve": {"scale": {"fill": "independent", "stroke": "independent", "color": "independent"}, "legend": {"fill": "independent", "stroke": "independent", "color": "independent"}},
          "hconcat": [
            {"width": 1, "height": 1, "data": {"name": "none"}, "mark": "point", "view": {"stroke": null}},
            {
              "spacing": 21.8,
              "resolve": {"scale": {"fill": "independent", "stroke": "independent", "color": "independent"}, "legend": {"fill": "independent", "stroke": "independent", "color": "independent"}},
              "hconcat": [
                {
                  "title": {"text": "c", "dx": -63, "offset": -19.7},
                  "width": 314, "height": 233,
                  "data": {"name": "eis"},
                  "resolve": {"axis": {"x": "independent", "y": "independent"}},
                  "layer": [
                    {
                      "mark": {"type": "line", "strokeWidth": 1.3},
                      "encoding": {
                        "x": {"field": "x", "type": "quantitative", "scale": {"domain": [0, 28], "nice": false}, "axis": {"title": "Z' (Ω)", "values": [0, 4, 8, 12, 16, 20, 24, 28], "labelPadding": 4, "titlePadding": 9}},
                        "y": {"field": "y", "type": "quantitative", "scale": {"domain": [-0.2, 12.05], "nice": false, "zero": false}, "axis": {"title": "Z'' (Ω)", "values": [0, 2, 4, 6, 8, 10, 12], "titlePadding": 12, "labelPadding": 2}},
                        "stroke": {"field": "s", "type": "nominal", "scale": {"domain": ["FeMoP-450", "Fe/SAs@Mo-based-HNSs", "FeMoP-550", "Bulk FeMoP-500", "20% Pt/C"], "range": ["#ee33ee", "#ee1111", "#8b8b1e", "#1414e6", "#ff8c1a"]},
                          "legend": {"title": null, "orient": "none", "legendX": 125, "legendY": 1, "symbolType": "M-1,0H1M0.25,0A0.25,0.25,0,1,1,-0.25,0A0.25,0.25,0,1,1,0.25,0", "symbolSize": 784, "symbolStrokeWidth": 1.5, "clipHeight": 16, "labelOffset": 5, "labelFontSize": 13}}
                      }
                    },
                    {
                      "mark": {"type": "point", "filled": true, "size": 40, "stroke": "rgba(0,0,0,0.35)", "strokeWidth": 0.7, "opacity": 1},
                      "encoding": {
                        "x": {"field": "x", "type": "quantitative", "axis": null},
                        "y": {"field": "y", "type": "quantitative", "axis": null},
                        "fill": {"field": "s", "type": "nominal", "scale": {"domain": ["FeMoP-450", "Fe/SAs@Mo-based-HNSs", "FeMoP-550", "Bulk FeMoP-500", "20% Pt/C"], "range": ["#ee33ee", "#ee1111", "#8b8b1e", "#1414e6", "#ff8c1a"]},
                          "legend": {"title": null, "orient": "none", "legendX": 125, "legendY": 1, "symbolType": "M-1,0H1M0.25,0A0.25,0.25,0,1,1,-0.25,0A0.25,0.25,0,1,1,0.25,0", "symbolSize": 784, "symbolStrokeWidth": 1.5, "clipHeight": 16, "labelOffset": 5, "labelFontSize": 13}}
                      }
                    },
                    {
                      "mark": {"type": "point", "opacity": 0},
                      "encoding": {
                        "x": {"field": "x", "type": "quantitative", "axis": {"orient": "bottom", "values": [2, 6, 10, 14, 18, 22, 26], "labels": false, "domain": false, "title": null, "tickSize": 2.5}},
                        "y": {"field": "y", "type": "quantitative", "axis": {"orient": "left", "values": [1, 3, 5, 7, 9, 11], "labels": false, "domain": false, "title": null, "tickSize": 2.5}}
                      }
                    }
                  ]
                },
                {
                  "title": {"text": "d", "dx": -87, "offset": -18, "fontSize": 36},
                  "width": 314, "height": 233,
                  "resolve": {"axis": {"x": "independent", "y": "independent"}},
                  "layer": [
                    {
                      "data": {"name": "cdlfit"},
                      "mark": {"type": "line", "strokeWidth": 1.5},
                      "encoding": {
                        "x": {"field": "x", "type": "quantitative", "scale": {"domain": [0, 130], "nice": false}, "axis": {"title": "Scan rates (mV s⁻²)", "values": [0, 20, 40, 60, 80, 100, 120], "labelPadding": 2.5, "titlePadding": 11}},
                        "y": {"field": "y", "type": "quantitative", "scale": {"domain": [0, 12], "nice": false}, "axis": {"title": "Current density (mA cm⁻²)", "values": [0, 2, 4, 6, 8, 10, 12], "titlePadding": 17, "labelPadding": 4}},
                        "stroke": {"field": "s", "type": "nominal", "scale": {"domain": ["FeMoP-450", "Fe/SAs@Mo-based-HNSs", "FeMoP-550", "Bulk FeMoP-500"], "range": ["#ee33ee", "#ee1111", "#8b8b1e", "#1414e6"]}, "legend": null}
                      }
                    },
                    {
                      "data": {"name": "cdl"},
                      "mark": {"type": "point", "filled": true, "size": 55, "stroke": "rgba(0,0,0,0.35)", "strokeWidth": 0.7, "opacity": 1},
                      "encoding": {
                        "x": {"field": "x", "type": "quantitative", "axis": null},
                        "y": {"field": "y", "type": "quantitative", "axis": null},
                        "fill": {"field": "s", "type": "nominal", "scale": {"domain": ["FeMoP-450", "Fe/SAs@Mo-based-HNSs", "FeMoP-550", "Bulk FeMoP-500"], "range": ["#ee33ee", "#ee1111", "#8b8b1e", "#1414e6"]},
                          "legend": {"title": null, "orient": "none", "legendX": 18.5, "legendY": 5.7, "symbolType": "circle", "symbolSize": 49, "clipHeight": 14.7, "labelOffset": 11.5, "labelFontSize": 12}}
                      }
                    },
                    {
                      "data": {"name": "cdl"},
                      "mark": {"type": "point", "opacity": 0},
                      "encoding": {
                        "x": {"field": "x", "type": "quantitative", "axis": {"orient": "bottom", "values": [10, 30, 50, 70, 90, 110], "labels": false, "domain": false, "title": null, "tickSize": 2.5}},
                        "y": {"field": "y", "type": "quantitative", "axis": {"orient": "left", "values": [1, 3, 5, 7, 9, 11], "labels": false, "domain": false, "title": null, "tickSize": 2.5}}
                      }
                    },
                    {
                      "data": {"values": [{"x": 87.3, "y": 7.22, "t": "78.4 mF cm⁻²"}]},
                      "mark": {"type": "text", "angle": -31, "fontSize": 18, "color": "#222", "align": "center", "baseline": "middle"},
                      "encoding": {"x": {"field": "x", "type": "quantitative", "axis": null}, "y": {"field": "y", "type": "quantitative", "axis": null}, "text": {"field": "t"}}
                    },
                    {
                      "data": {"values": [{"x": 86.6, "y": 4.13, "t": "36.1 mF cm⁻²"}]},
                      "mark": {"type": "text", "angle": -23, "fontSize": 18, "color": "#222", "align": "center", "baseline": "middle"},
                      "encoding": {"x": {"field": "x", "type": "quantitative", "axis": null}, "y": {"field": "y", "type": "quantitative", "axis": null}, "text": {"field": "t"}}
                    },
                    {
                      "data": {"values": [{"x": 97.2, "y": 2.62, "t": "30.8 mF cm⁻²"}]},
                      "mark": {"type": "text", "angle": -14, "fontSize": 18, "color": "#222", "align": "center", "baseline": "middle"},
                      "encoding": {"x": {"field": "x", "type": "quantitative", "axis": null}, "y": {"field": "y", "type": "quantitative", "axis": null}, "text": {"field": "t"}}
                    },
                    {
                      "data": {"values": [{"x": 103, "y": 0.62, "t": "10.9 mF cm⁻²"}]},
                      "mark": {"type": "text", "angle": -10, "fontSize": 18, "color": "#222", "align": "center", "baseline": "middle"},
                      "encoding": {"x": {"field": "x", "type": "quantitative", "axis": null}, "y": {"field": "y", "type": "quantitative", "axis": null}, "text": {"field": "t"}}
                    }
                  ]
                }
              ]
            }
          ]
        },
        {
          "spacing": -24.7,
          "resolve": {"scale": {"fill": "independent", "stroke": "independent", "color": "independent"}, "legend": {"fill": "independent", "stroke": "independent", "color": "independent"}},
          "vconcat": [
            {
              "spacing": 6,
              "resolve": {"scale": {"fill": "independent", "stroke": "independent", "color": "independent"}, "legend": {"fill": "independent", "stroke": "independent", "color": "independent"}},
              "hconcat": [
                {"width": 1, "height": 1, "data": {"name": "none"}, "mark": "point", "view": {"stroke": null}},
                {
                  "spacing": 45.8,
                  "resolve": {"scale": {"fill": "independent", "stroke": "independent", "color": "independent"}, "legend": {"fill": "independent", "stroke": "independent", "color": "independent"}},
                  "hconcat": [
                    {
                      "title": {"text": "e", "dx": -57, "offset": -7.4},
                      "width": 314, "height": 234,
                      "data": {"name": "fe"},
                      "resolve": {"axis": {"x": "independent", "y": "independent"}},
                      "layer": [
                        {
                          "mark": {"type": "bar", "fill": "#ff0000", "stroke": "#3a0000", "strokeWidth": 1},
                          "encoding": {
                            "x": {"field": "p", "type": "ordinal", "sort": null, "scale": {"paddingInner": 0.68, "paddingOuter": 0.34}, "axis": {"title": "Potential (V vs. RHE)", "labelAngle": 0, "labelPadding": 4.5, "titlePadding": 7.5}},
                            "y": {"field": "fe", "type": "quantitative", "scale": {"domain": [0, 110], "nice": false}, "axis": {"title": "Faradaic efficiency (%)", "values": [0, 20, 40, 60, 80, 100], "tickSize": 6, "labelPadding": 8, "titlePadding": 6}}
                          }
                        },
                        {
                          "mark": {"type": "errorbar", "ticks": {"size": 10}, "color": "#111", "thickness": 1.5},
                          "encoding": {
                            "x": {"field": "p", "type": "ordinal", "sort": null, "axis": null},
                            "y": {"field": "fe", "type": "quantitative", "axis": null},
                            "yError": {"field": "err"}
                          }
                        },
                        {
                          "mark": {"type": "point", "opacity": 0},
                          "encoding": {
                            "x": {"field": "p", "type": "ordinal", "sort": null, "axis": null},
                            "y": {"field": "fe", "type": "quantitative", "axis": {"orient": "left", "values": [10, 30, 50, 70, 90], "labels": false, "domain": false, "title": null, "tickSize": 3}}
                          }
                        }
                      ]
                    },
                    {
                      "title": {"text": "f", "dx": -70.5, "offset": -11.4},
                      "width": 313, "height": 234,
                      "data": {"name": "h2"},
                      "resolve": {"axis": {"x": "independent", "y": "independent"}},
                      "layer": [
                        {
                          "transform": [{"filter": "datum.s === 'Fe/SAs@Mo-based-HNSs'"}],
                          "mark": {"type": "bar", "orient": "vertical", "width": 10, "xOffset": -10, "stroke": "#222", "strokeWidth": 1},
                          "encoding": {
                            "x": {"field": "t", "type": "quantitative", "scale": {"domain": [0, 130], "nice": false}, "axis": {"title": "Time (min)", "values": [0, 15, 30, 45, 60, 75, 90, 105, 120], "labelPadding": 2.5, "titlePadding": 10}},
                            "y": {"field": "h", "type": "quantitative", "scale": {"domain": [0, 200], "nice": false}, "axis": {"title": "Hydrogen amount (μmol)", "values": [0, 30, 60, 90, 120, 150, 180], "tickSize": 6, "labelPadding": 5, "titlePadding": 6}},
                            "fill": {"field": "s", "type": "nominal", "scale": {"domain": ["Fe/SAs@Mo-based-HNSs", "20% Pt/C", "Bulk FeMoP-500"], "range": ["#ff0000", "#ff8c1a", "#0000ee"]},
                              "legend": {"title": null, "orient": "none", "legendX": 13, "legendY": 6.25, "symbolType": "M-1,-0.48H1V0.48H-1Z", "symbolSize": 841, "symbolStrokeColor": "#222", "symbolStrokeWidth": 1, "clipHeight": 15.5, "labelOffset": 3, "labelFontSize": 13}}
                          }
                        },
                        {
                          "transform": [{"filter": "datum.s === '20% Pt/C'"}],
                          "mark": {"type": "bar", "orient": "vertical", "width": 10, "xOffset": 0, "stroke": "#222", "strokeWidth": 1},
                          "encoding": {
                            "x": {"field": "t", "type": "quantitative", "axis": null},
                            "y": {"field": "h", "type": "quantitative", "axis": null},
                            "fill": {"field": "s", "type": "nominal"}
                          }
                        },
                        {
                          "transform": [{"filter": "datum.s === 'Bulk FeMoP-500'"}],
                          "mark": {"type": "bar", "orient": "vertical", "width": 10, "xOffset": 10, "stroke": "#222", "strokeWidth": 1},
                          "encoding": {
                            "x": {"field": "t", "type": "quantitative", "axis": null},
                            "y": {"field": "h", "type": "quantitative", "axis": null},
                            "fill": {"field": "s", "type": "nominal"}
                          }
                        },
                        {
                          "mark": {"type": "point", "opacity": 0},
                          "encoding": {
                            "x": {"field": "t", "type": "quantitative", "axis": {"orient": "bottom", "values": [7.5, 22.5, 37.5, 52.5, 67.5, 82.5, 97.5, 112.5, 127.5], "labels": false, "domain": false, "title": null, "tickSize": 2.5}},
                            "y": {"field": "h", "type": "quantitative", "axis": {"orient": "left", "values": [15, 45, 75, 105, 135, 165, 195], "labels": false, "domain": false, "title": null, "tickSize": 3}}
                          }
                        }
                      ]
                    }
                  ]
                }
              ]
            },
            {
              "spacing": 58,
              "resolve": {"scale": {"fill": "independent", "stroke": "independent", "color": "independent"}, "legend": {"fill": "independent", "stroke": "independent", "color": "independent"}},
              "hconcat": [
                {"width": 1, "height": 1, "data": {"name": "none"}, "mark": "point", "view": {"stroke": null}},
                {
                  "title": {"text": "g", "dx": -97, "offset": -0.55},
                  "width": 608, "height": 235,
                  "resolve": {"axis": {"x": "independent", "y": "independent"}},
                  "layer": [
                    {
                      "data": {"name": "stab"},
                      "mark": {"type": "line", "stroke": "#f7901e", "strokeWidth": 3.5},
                      "encoding": {
                        "x": {"field": "t", "type": "quantitative", "scale": {"domain": [0, 600], "nice": false}, "axis": {"title": "Time (h)", "values": [0, 100, 200, 300, 400, 500, 600], "labelFontSize": 12, "titleFontSize": 14, "labelPadding": 2, "titlePadding": 10}},
                        "y": {"field": "v", "type": "quantitative", "scale": {"domain": [-0.5, 0], "nice": false}, "axis": {"title": "Potential (V vs. RHE)", "values": [0, -0.1, -0.2, -0.3, -0.4, -0.5], "format": ".1f", "labelFontSize": 12, "labelPadding": 1, "titlePadding": 15}}
                      }
                    },
                    {
                      "data": {"name": "stab"},
                      "mark": {"type": "point", "opacity": 0},
                      "encoding": {
                        "x": {"field": "t", "type": "quantitative", "axis": {"orient": "bottom", "values": [50, 150, 250, 350, 450, 550], "labels": false, "domain": false, "title": null, "tickSize": 2.5}},
                        "y": {"field": "v", "type": "quantitative", "axis": {"orient": "left", "values": [-0.05, -0.15, -0.25, -0.35, -0.45], "labels": false, "domain": false, "title": null, "tickSize": 2.5}}
                      }
                    },
                    {
                      "data": {"values": [{"x": 165, "y": -0.151, "t": "200 mA cm⁻²"}]},
                      "mark": {"type": "text", "fontSize": 10.5, "color": "#222", "align": "center", "baseline": "middle"},
                      "encoding": {"x": {"field": "x", "type": "quantitative", "axis": null}, "y": {"field": "y", "type": "quantitative", "axis": null}, "text": {"field": "t"}}
                    },
                    {
                      "data": {"values": [{"x": 457, "y": -0.151, "t": "Overpotential amplified ~30 mV"}]},
                      "mark": {"type": "text", "fontSize": 10.5, "color": "#222", "align": "center", "baseline": "middle"},
                      "encoding": {"x": {"field": "x", "type": "quantitative", "axis": null}, "y": {"field": "y", "type": "quantitative", "axis": null}, "text": {"field": "t"}}
                    }
                  ]
                }
              ]
            }
          ]
        }
      ]
    }
  ]
}
